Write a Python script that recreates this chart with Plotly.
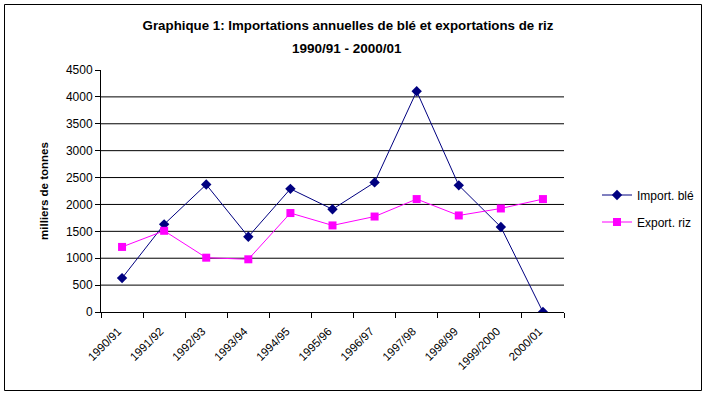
import plotly.graph_objects as go

categories = ["1990/91", "1991/92", "1992/93", "1993/94", "1994/95", "1995/96",
              "1996/97", "1997/98", "1998/99", "1999/2000", "2000/01"]
import_ble = [630, 1630, 2370, 1400, 2290, 1910, 2410, 4105, 2355, 1580, 0]
export_riz = [1210, 1510, 1010, 980, 1840, 1610, 1775, 2100, 1795, 1925, 2100]
y_ticks = [0, 500, 1000, 1500, 2000, 2500, 3000, 3500, 4000, 4500]
grid_vals = [500, 1000, 1500, 2000, 2500, 3000, 3500, 4000]

W, H = 707, 395
L, R, T, B = 101, 143, 70, 83
pw, ph = W - L - R, H - T - B

def px(x):
    return (x - L) / pw

def py(y):
    return (H - B - y) / ph

FONT = "Liberation Sans, Arial, sans-serif"

fig = go.Figure()
fig.add_trace(go.Scatter(
    x=categories, y=import_ble, name="Import. blé", mode="lines+markers",
    line=dict(color="#000080", width=1),
    marker=dict(symbol="diamond", size=8, color="#000080"),
    legendgroup="a",
))
fig.add_trace(go.Scatter(
    x=categories, y=export_riz, name="Export. riz", mode="lines+markers",
    line=dict(color="#FF00FF", width=1),
    marker=dict(symbol="square", size=8, color="#FF00FF"),
    legendgroup="b",
))

shapes = []
for g in grid_vals:
    shapes.append(dict(type="line", xref="paper", yref="y", x0=0, x1=1, y0=g, y1=g,
                       line=dict(color="black", width=1), layer="below"))
shapes.append(dict(type="rect", xref="paper", yref="paper",
                   x0=px(4.5), x1=px(701.5), y0=py(390.5), y1=py(4.5),
                   line=dict(color="black", width=1), layer="below"))

fig.update_layout(
    width=W, height=H,
    margin=dict(l=L, r=R, t=T, b=B, autoexpand=False),
    paper_bgcolor="white", plot_bgcolor="white",
    font=dict(family=FONT, size=11, color="black"),
    title=dict(text="<b>Graphique 1: Importations annuelles de blé et exportations de riz</b>",
               x=(348) / W, xanchor="center", y=1 - 25 / H, yanchor="middle",
               yref="container", xref="container",
               font=dict(family=FONT, size=13.3, color="black")),
    annotations=[dict(text="<b>1990/91 - 2000/01</b>", xref="paper", yref="paper",
                      x=px(347), y=py(49), xanchor="center", yanchor="middle",
                      showarrow=False, font=dict(family=FONT, size=13.5, color="black"))],
    xaxis=dict(type="category", tickson="boundaries", ticks="outside", ticklen=5,
               tickcolor="black", showline=True, linecolor="black", linewidth=1,
               showgrid=False, tickangle=-45, tickfont=dict(size=11.5),
               ticklabelstandoff=7, ticklabelshift=-4,
               range=[-0.5, 10.5], automargin=False),
    yaxis=dict(range=[0, 4500], tickvals=y_ticks, ticks="outside", ticklen=5,
               tickcolor="black", showline=True, linecolor="black", linewidth=1,
               showgrid=False, zeroline=False, tickfont=dict(size=12),
               automargin=False,
               title=dict(text="<b>milliers de tonnes</b>", standoff=14,
                          font=dict(family=FONT, size=11.5, color="black"))),
    legend=dict(x=px(597), y=py(208.5), xanchor="left", yanchor="middle",
                tracegroupgap=8, font=dict(size=12), bgcolor="rgba(0,0,0,0)"),
    shapes=shapes,
)

fig.write_html("out.html", config={"displayModeBar": False},
               post_script="document.body.style.margin='0';")
